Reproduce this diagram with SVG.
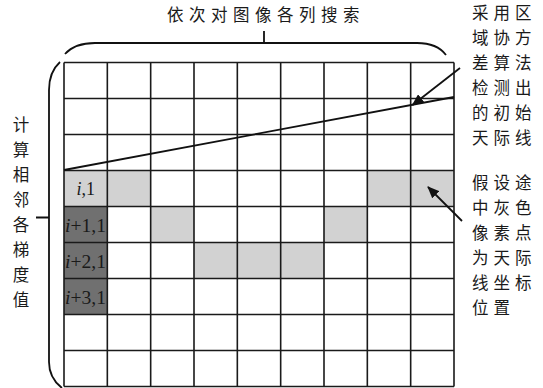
<svg xmlns="http://www.w3.org/2000/svg" width="543" height="388" viewBox="0 0 543 388">
<style>
.cn{font-family:"Noto Sans CJK SC","Noto Sans CJK JP",sans-serif;font-size:16.5px;fill:#1a1a1a}
.lbl{font-family:"Liberation Serif","Times New Roman",serif;font-size:18px;fill:#1a1a1a}
.g{stroke:#1a1a1a;stroke-width:1.6;fill:none}
.lt{fill:#d2d2d2}
.dk{fill:#707070}
.conn{stroke:#111;stroke-width:1.8;fill:none}
</style>
<defs>
<marker id="ah" viewBox="0 0 12 10" refX="11" refY="5" markerWidth="12" markerHeight="10" markerUnits="userSpaceOnUse" orient="auto">
<path d="M0,0 L12,5 L0,10 Z" fill="#111"/>
</marker>
</defs>
<rect width="543" height="388" fill="#fff"/>
<g id="grid">
<rect class="lt" x="64" y="170.5" width="86.67" height="36"/>
<rect class="lt" x="367.33" y="170.5" width="86.67" height="36"/>
<rect class="lt" x="150.67" y="206.5" width="43.33" height="36"/>
<rect class="lt" x="324" y="206.5" width="43.33" height="36"/>
<rect class="lt" x="194" y="242.5" width="130" height="36"/>
<rect class="dk" x="64" y="206.5" width="43.33" height="108"/>
<path class="g" d="M64,62.5V386.5M107.33,62.5V386.5M150.67,62.5V386.5M194,62.5V386.5M237.33,62.5V386.5M280.67,62.5V386.5M324,62.5V386.5M367.33,62.5V386.5M410.67,62.5V386.5M454,62.5V386.5"/>
<path class="g" d="M64,62.5H454M64,98.5H454M64,134.5H454M64,170.5H454M64,206.5H454M64,242.5H454M64,278.5H454M64,314.5H454M64,350.5H454M64,386.5H454"/>
</g>
<g id="cell-labels">
<text class="lbl" x="85.7" y="195" text-anchor="middle"><tspan font-style="italic">i</tspan>,1</text>
<text class="lbl" x="65" y="232" textLength="41" lengthAdjust="spacingAndGlyphs"><tspan font-style="italic">i</tspan>+1,1</text>
<text class="lbl" x="65" y="268" textLength="41" lengthAdjust="spacingAndGlyphs"><tspan font-style="italic">i</tspan>+2,1</text>
<text class="lbl" x="65" y="304" textLength="41" lengthAdjust="spacingAndGlyphs"><tspan font-style="italic">i</tspan>+3,1</text>
</g>
<g id="connectors">
<path id="skyline" class="conn" d="M64,170 L454,97"/>
<path id="top-brace" class="conn" d="M65,54 Q75,43 95,43 H417 Q437,43 446,55 M264,43 V31"/>
<path id="left-brace" class="conn" d="M60,62 Q49,72 49,90 V362 Q49,378 62,388 M49,217.5 H36"/>
<path id="arrow1" class="conn" d="M460,68 L412.5,105" marker-end="url(#ah)"/>
<path id="arrow2" class="conn" d="M462,221 L428,187" marker-end="url(#ah)"/>
</g>
<g id="top-label">
<text class="cn" x="167" y="21" letter-spacing="5.5">依次对图像各列搜索</text>
</g>
<g id="left-label" class="cn" text-anchor="middle">
<text x="21" y="131">计</text>
<text x="21" y="156">算</text>
<text x="21" y="181">相</text>
<text x="21" y="206">邻</text>
<text x="21" y="231">各</text>
<text x="21" y="256">梯</text>
<text x="21" y="281">度</text>
<text x="21" y="306">值</text>
</g>
<g id="right-label-1" class="cn" letter-spacing="5">
<text x="472" y="19">采用区</text>
<text x="472" y="44">域协方</text>
<text x="472" y="69">差算法</text>
<text x="472" y="94">检测出</text>
<text x="472" y="119">的初始</text>
<text x="472" y="144">天际线</text>
</g>
<g id="right-label-2" class="cn" letter-spacing="5">
<text x="472" y="189">假设途</text>
<text x="472" y="214">中灰色</text>
<text x="472" y="239">像素点</text>
<text x="472" y="264">为天际</text>
<text x="472" y="289">线坐标</text>
<text x="472" y="314">位置</text>
</g>
</svg>
